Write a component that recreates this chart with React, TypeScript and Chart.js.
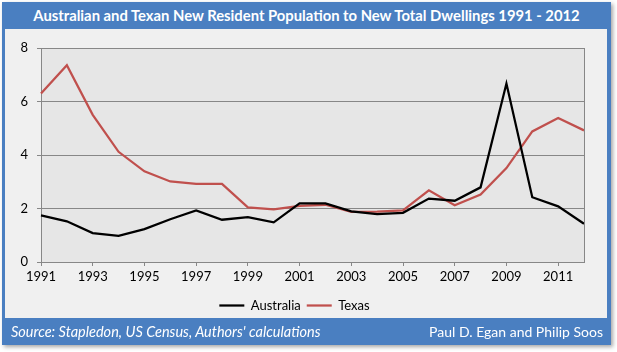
import React, { useEffect, useRef } from "react";
import { Chart, registerables } from "chart.js";

Chart.register(...registerables);

const years = ["1991","1992","1993","1994","1995","1996","1997","1998","1999","2000","2001","2002","2003","2004","2005","2006","2007","2008","2009","2010","2011","2012"];
const australia = [1.74, 1.52, 1.08, 0.98, 1.23, 1.6, 1.93, 1.58, 1.68, 1.48, 2.19, 2.19, 1.89, 1.79, 1.84, 2.37, 2.29, 2.79, 6.67, 2.42, 2.08, 1.43];
const texas = [6.3, 7.36, 5.5, 4.12, 3.39, 3.01, 2.92, 2.92, 2.04, 1.97, 2.1, 2.14, 1.87, 1.88, 1.93, 2.68, 2.12, 2.52, 3.51, 4.88, 5.38, 4.92];
const yTicks = [0, 2, 4, 6, 8];

const titleText = "Australian and Texan New Resident Population to New Total Dwellings 1991 - 2012";
const sourceText = "Source: Stapledon, US Census, Authors' calculations";
const authorText = "Paul D. Egan and Philip Soos";

const FONT = "Lato, 'Open Sans', sans-serif";
const BLUE = "#4a7fc1";
const GRID = "#878787";

const plotBg = {
  id: "plotBg",
  beforeDraw(chart: any) {
    const { ctx, chartArea } = chart;
    ctx.save();
    ctx.fillStyle = "#e6e6e6";
    ctx.fillRect(chartArea.left, chartArea.top, chartArea.right - chartArea.left, chartArea.bottom - chartArea.top);
    ctx.restore();
  },
  afterDatasetsDraw(chart: any) {
    const { ctx, chartArea } = chart;
    ctx.save();
    ctx.strokeStyle = GRID;
    ctx.lineWidth = 1;
    ctx.beginPath();
    const x = Math.round(chartArea.right) + 0.5;
    ctx.moveTo(x, chartArea.top);
    ctx.lineTo(x, chartArea.bottom);
    ctx.stroke();
    ctx.restore();
  },
};

export default function App() {
  const ref = useRef<HTMLCanvasElement | null>(null);
  useEffect(() => {
    if (!ref.current) return;
    const chart = new Chart(ref.current, {
      type: "line",
      data: {
        labels: years,
        datasets: [
          { label: "Australia", data: australia, borderColor: "#000000", backgroundColor: "#000000", borderWidth: 2.25, pointRadius: 0, tension: 0, pointStyle: "line" },
          { label: "Texas", data: texas, borderColor: "#c0504d", backgroundColor: "#c0504d", borderWidth: 2.25, pointRadius: 0, tension: 0, pointStyle: "line" },
        ],
      },
      options: {
        animation: false,
        responsive: false,
        devicePixelRatio: 1,
        layout: { padding: { left: 0, right: 23, top: 19, bottom: 0 } },
        plugins: {
          title: { display: false },
          tooltip: { enabled: false },
          legend: {
            display: true,
            position: "bottom",
            labels: {
              usePointStyle: true,
              pointStyleWidth: 25,
              boxHeight: 13,
              padding: 6,
              color: "#000",
              font: { family: FONT, size: 13 },
            },
          },
        },
        scales: {
          x: {
            type: "category",
            offset: false,
            afterFit: (s: any) => { s.height = 31; },
            grid: { display: true, drawOnChartArea: false, drawTicks: true, tickLength: 4, color: GRID },
            border: { display: true, color: GRID, width: 1 },
            ticks: {
              autoSkip: false,
              maxRotation: 0,
              padding: 3,
              color: "#000",
              font: { family: FONT, size: 13 },
              callback: (_v: any, i: number) => (i % 2 === 0 ? years[i] : null),
            },
          },
          y: {
            min: 0,
            max: 8,
            afterFit: (s: any) => { s.width = 36; },
            afterBuildTicks: (s: any) => { s.ticks = yTicks.map((v) => ({ value: v })); },
            grid: { display: true, color: GRID, tickLength: 4, drawTicks: true },
            border: { display: true, color: GRID, width: 1 },
            ticks: {
              padding: 9,
              color: "#000",
              font: { family: FONT, size: 13 },
            },
          },
        },
      },
      plugins: [plotBg],
    });
    return () => chart.destroy();
  }, []);

  return (
    <div style={{ position: "absolute", left: 0, top: 0, width: 617, height: 352, background: "#fff", fontFamily: FONT }}>
      <div style={{ position: "absolute", left: 2, top: 2, width: 609, height: 343, background: BLUE, boxShadow: "2px 2px 4px rgba(0,0,0,0.35)" }}>
        <div style={{ position: "absolute", left: 0, top: 0, width: 609, height: 27, lineHeight: "27px", textAlign: "center", color: "#fff", fontWeight: "bold", fontSize: 14.8, whiteSpace: "nowrap" }}>
          {titleText}
        </div>
        <div style={{ position: "absolute", left: 3, top: 27, width: 602, height: 289, background: "#f0f0f0" }}>
          <canvas ref={ref} width={602} height={293} style={{ display: "block", width: 602, height: 293 }} />
        </div>
        <div style={{ position: "absolute", left: 9, top: 316, height: 27, lineHeight: "27px", color: "#fff", fontStyle: "italic", fontSize: 14.5, whiteSpace: "nowrap" }}>
          {sourceText}
        </div>
        <div style={{ position: "absolute", right: 8, top: 316, height: 27, lineHeight: "27px", color: "#fff", fontSize: 14, whiteSpace: "nowrap" }}>
          {authorText}
        </div>
      </div>
    </div>
  );
}
